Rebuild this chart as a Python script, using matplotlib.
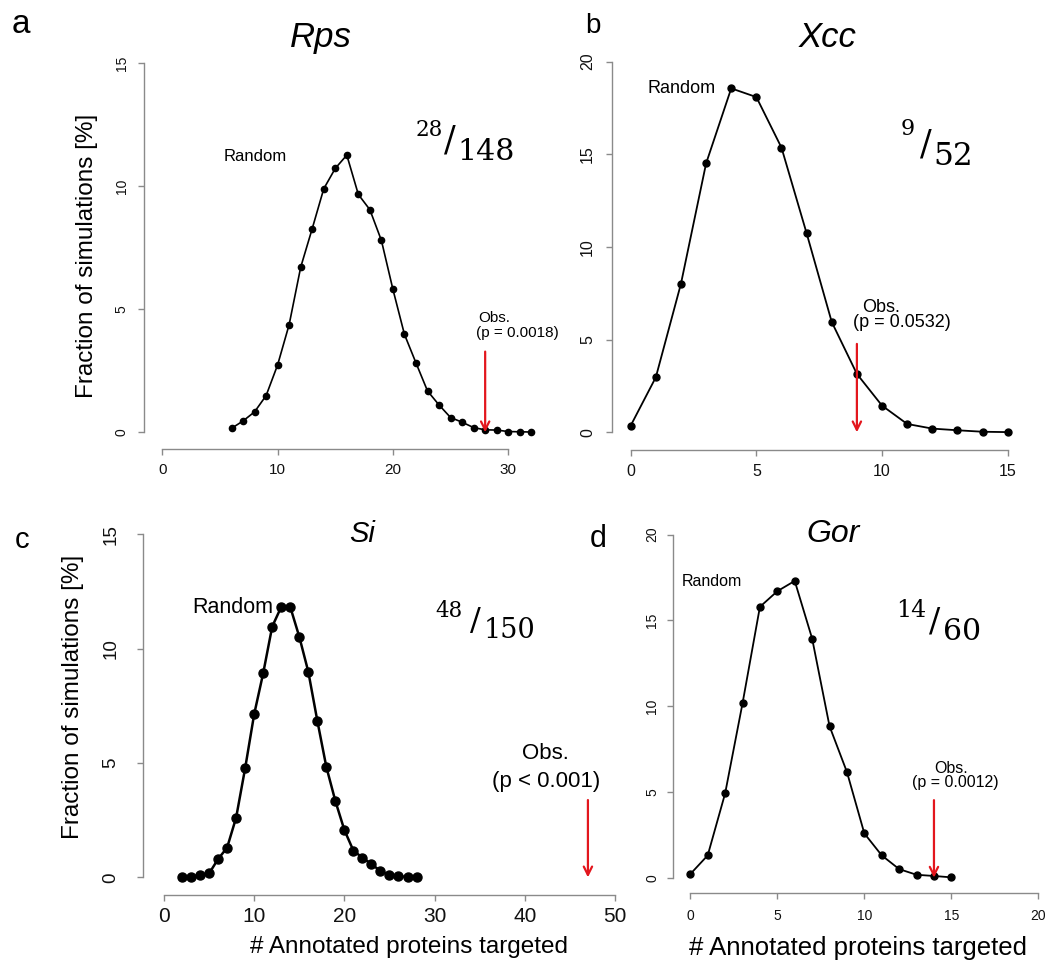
import matplotlib
matplotlib.use("Agg")
import matplotlib.pyplot as plt

W, H = 1053, 974
RED = "#e3161d"
SERIF = ["DejaVu Serif"]

plt.rcParams["font.family"] = ["Liberation Sans", "DejaVu Sans"]

# --- data ---
rps_x = list(range(6, 33))
rps_y = [0.16, 0.46, 0.83, 1.49, 2.74, 4.38, 6.71, 8.28, 9.9, 10.73, 11.27,
         9.67, 9.05, 7.8, 5.81, 3.98, 2.82, 1.68, 1.11, 0.6, 0.41, 0.19,
         0.1, 0.09, 0.03, 0.02, 0.01]

xcc_x = list(range(0, 16))
xcc_y = [0.36, 2.97, 8.02, 14.51, 18.56, 18.09, 15.36, 10.74, 5.95, 3.15,
         1.44, 0.45, 0.2, 0.11, 0.03, 0.01]

si_x = list(range(2, 29))
si_y = [0.03, 0.03, 0.1, 0.17, 0.8, 1.3, 2.61, 4.77, 7.13, 8.92, 10.96,
        11.82, 11.82, 10.52, 8.99, 6.85, 4.83, 3.34, 2.07, 1.17, 0.86,
        0.58, 0.28, 0.1, 0.04, 0.03, 0.02]

gor_x = list(range(0, 16))
gor_y = [0.21, 1.3, 4.91, 10.16, 15.79, 16.7, 17.3, 13.94, 8.83, 6.16,
         2.58, 1.3, 0.5, 0.17, 0.1, 0.02]

organisms = ["Rps", "Xcc", "Si", "Gor"]
letters = ["a", "b", "c", "d"]
observed = [28, 9, 47, 14]
p_labels = ["(p = 0.0018)", "(p = 0.0532)", "(p < 0.001)", "(p = 0.0012)"]
numerators = ["28", "9", "48", "14"]
denominators = ["148", "52", "150", "60"]
x_ticks = [[0, 10, 20, 30], [0, 5, 10, 15], [0, 10, 20, 30, 40, 50],
           [0, 5, 10, 15, 20]]
y_ticks = [[0, 5, 10, 15], [0, 5, 10, 15, 20], [0, 5, 10, 15],
           [0, 5, 10, 15, 20]]
series = [(rps_x, rps_y), (xcc_x, xcc_y), (si_x, si_y), (gor_x, gor_y)]

# --- layout (pixels, top-left origin) and styling per panel ---
panels = [
    dict(rect=(144, 55, 545, 449), xlim=(-1.59, 33.19), ylim=(-0.68, 15.34),
         lw=1.2, ms=4.5, xfs=11, yfs=10, xpad=6, ypad=7,
         arrow_top=3.28, obs_xy=(28.77, 4.65), p_xy=(30.76, 4.04), ofs=11,
         rnd_xy=(8.04, 11.23), rnd_ha="center", rfs=12,
         letter=(12, 33, 24), title=(321, 47, 25),
         frac=(416, 136, 457, 160, 450, 151, 15.5, 21.7, 25)),
    dict(rect=(611.7, 55, 1020, 450), xlim=(-0.756, 15.49), ylim=(-0.955, 20.36),
         lw=1.3, ms=5, xfs=11.5, yfs=11.5, xfam=None, xpad=6, ypad=8,
         arrow_top=4.77, obs_xy=(9.96, 6.76), p_xy=(10.8, 5.9), ofs=13,
         rnd_xy=(3.38, 18.53), rnd_ha="right", rfs=13,
         letter=(585, 33, 20), title=(828, 47, 25),
         frac=(901, 135, 933, 165, 926, 155, 16, 22.5, 25)),
    dict(rect=(143.3, 525, 625, 895), xlim=(-2.29, 51.11), ylim=(-0.77, 15.4),
         lw=1.8, ms=6.5, xfs=15, yfs=13.5, xpad=5, ypad=13,
         arrow_top=3.38, obs_xy=(42.24, 5.43), p_xy=(42.35, 4.17), ofs=16,
         rnd_xy=(7.6, 11.8), rnd_ha="center", rfs=15.5,
         letter=(15, 548, 21), title=(362, 542, 21),
         frac=(435, 617, 484, 638, 475, 630, 15.5, 19.5, 23)),
    dict(rect=(673.3, 525, 1045, 893.3), xlim=(-0.977, 20.38), ylim=(-0.91, 20.56),
         lw=1.3, ms=5, xfs=10, yfs=10, xpad=7, ypad=6,
         arrow_top=4.52, obs_xy=(14.98, 6.39), p_xy=(15.21, 5.52), ofs=11.5,
         rnd_xy=(2.98, 17.28), rnd_ha="right", rfs=11.5,
         letter=(590, 547, 22), title=(833, 542, 23),
         frac=(896, 617, 943, 640, 935, 632, 17, 21.5, 24)),
]


def fpos(x, y):
    return x / W, 1 - y / H


fig = plt.figure(figsize=(W / 100, H / 100), dpi=100)

for i, p in enumerate(panels):
    l, t, r, b = p["rect"]
    ax = fig.add_axes([l / W, 1 - b / H, (r - l) / W, (b - t) / H])
    ax.patch.set_alpha(0)
    xs, ys = series[i]
    ax.plot(xs, ys, color="black", lw=p["lw"], marker="o", ms=p["ms"],
            clip_on=False)
    ax.set_xlim(*p["xlim"])
    ax.set_ylim(*p["ylim"])

    # R-like detached axes
    for s in ["top", "right"]:
        ax.spines[s].set_visible(False)
    for s in ["left", "bottom"]:
        ax.spines[s].set_color("#8a8a8a")
        ax.spines[s].set_linewidth(1.0)
    ax.spines["bottom"].set_bounds(x_ticks[i][0], x_ticks[i][-1])
    ax.spines["left"].set_bounds(y_ticks[i][0], y_ticks[i][-1])
    ax.set_xticks(x_ticks[i])
    ax.set_yticks(y_ticks[i])
    ax.tick_params(direction="out", length=4, width=1.0, color="#8a8a8a",
                   labelcolor="#111111")
    ax.tick_params(axis="x", labelsize=p["xfs"], pad=p["xpad"])
    ax.tick_params(axis="y", labelsize=p["yfs"], pad=p["ypad"],
                   labelrotation=90)
    for lab in ax.get_yticklabels():
        lab.set_va("center")

    # observed value arrow
    ax.annotate("", xy=(observed[i], 0), xytext=(observed[i], p["arrow_top"]),
                arrowprops=dict(arrowstyle="->,head_length=0.6,head_width=0.3",
                                color=RED, lw=1.6, shrinkA=0, shrinkB=0))
    ax.text(*p["obs_xy"], "Obs.", ha="center", va="center", fontsize=p["ofs"])
    ax.text(*p["p_xy"], p_labels[i], ha="center", va="center", fontsize=p["ofs"])
    ax.text(*p["rnd_xy"], "Random", ha=p["rnd_ha"], va="center",
            fontsize=p["rfs"])

    # panel letter and title
    lx, ly, lfs = p["letter"]
    fig.text(*fpos(lx, ly), letters[i], fontsize=lfs, ha="left", va="baseline")
    tx, ty, tfs = p["title"]
    fig.text(*fpos(tx, ty), organisms[i], fontsize=tfs, style="italic",
             ha="center", va="baseline")

    # hit ratio written as a slashed fraction
    nx, ny, dx, dy, sx, sy, nfs, dfs, sfs = p["frac"]
    fig.text(*fpos(nx, ny), numerators[i], fontsize=nfs, family=SERIF,
             ha="left", va="baseline")
    fig.text(*fpos(dx, dy), denominators[i], fontsize=dfs, family=SERIF,
             ha="left", va="baseline")
    fig.text(*fpos(sx, sy), "/", fontsize=sfs, family=SERIF,
             ha="center", va="baseline")

# shared axis titles
fig.text(*fpos(87, 256), "Fraction of simulations [%]", rotation=90,
         fontsize=17.5, ha="center", va="center")
fig.text(*fpos(73, 697), "Fraction of simulations [%]", rotation=90,
         fontsize=17.5, ha="center", va="center")
fig.text(*fpos(409, 947), "# Annotated proteins targeted", fontsize=17.5,
         ha="center", va="center")
fig.text(*fpos(858, 948), "# Annotated proteins targeted", fontsize=18.5,
         ha="center", va="center")

fig.savefig("out.png", dpi=100)
